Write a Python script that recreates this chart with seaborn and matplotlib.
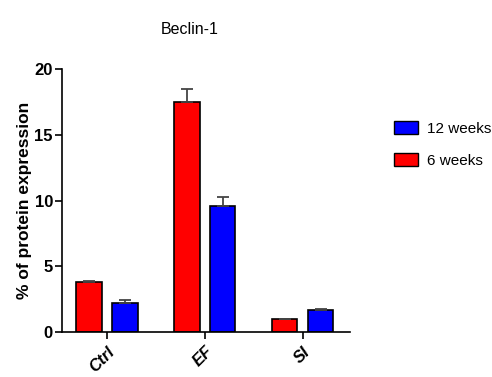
import matplotlib
matplotlib.use("Agg")
import matplotlib.pyplot as plt
import seaborn as sns
import pandas as pd
import numpy as np
from matplotlib.patches import Patch

categories = ["Ctrl", "EF", "SI"]
groups = ["6 weeks", "12 weeks"]
values_6w = [3.8, 17.5, 1.0]
err_6w = [0.05, 1.0, 0.03]
values_12w = [2.25, 9.6, 1.7]
err_12w = [0.2, 0.7, 0.08]
colors = {"6 weeks": "#ff0000", "12 weeks": "#0000ff"}

sns.set_style("white")
plt.rcParams['font.family'] = ['Liberation Sans', 'DejaVu Sans']
plt.rcParams['text.color'] = 'black'
plt.rcParams['axes.labelcolor'] = 'black'
plt.rcParams['xtick.color'] = 'black'
plt.rcParams['ytick.color'] = 'black'

df = pd.DataFrame({
    "cat": categories * 2,
    "group": [groups[0]] * 3 + [groups[1]] * 3,
    "value": values_6w + values_12w,
    "err": err_6w + err_12w,
})

fig = plt.figure(figsize=(4.92, 3.77), dpi=100)
ax = fig.add_axes([0.126, 0.119, 0.585, 0.698])
sns.barplot(data=df, x="cat", y="value", hue="group", hue_order=groups,
            order=categories, palette=colors, saturation=1, width=0.734, gap=0.3,
            errorbar=None, edgecolor="black", linewidth=1.2, legend=False, ax=ax)

# error bars (upward only)
for cont, g in zip(ax.containers, groups):
    sub = df[df.group == g]
    for bar, (_, row) in zip(cont, sub.iterrows()):
        xc = bar.get_x() + bar.get_width() / 2
        ax.errorbar(xc, row.value, yerr=[[0], [row.err]], fmt="none",
                    ecolor="#444444", elinewidth=1.3, capsize=4.5, capthick=1.3)

ax.set_xlim(-0.46, 2.48)
ax.set_ylim(0, 20)
ax.set_yticks([0, 5, 10, 15, 20])
sns.despine(ax=ax)
for s in ["left", "bottom"]:
    ax.spines[s].set_color("black")
    ax.spines[s].set_linewidth(1.2)
ax.tick_params(axis="both", direction="out", length=5, width=1.2, color="black",
               bottom=True, left=True)
ax.tick_params(axis="y", pad=1.5)
ax.set_xlabel("")
ax.set_ylabel("% of protein expression", fontsize=12.5, fontweight="bold", labelpad=2)
for lbl in ax.get_yticklabels():
    lbl.set_fontweight("bold")
    lbl.set_fontsize(12)
ax.set_xticks(range(len(categories)))
ax.set_xticklabels(categories, rotation=45, ha="right", rotation_mode="anchor",
                   fontweight="bold", fontsize=12, style="italic")

fig.text(190 / 492, 1 - 30 / 377, "Beclin-1", ha="center", va="center", fontsize=11.5)

handles = [Patch(facecolor=colors["12 weeks"], edgecolor="black", label="12 weeks"),
           Patch(facecolor=colors["6 weeks"], edgecolor="black", label="6 weeks")]
fig.legend(handles=handles, loc="upper left", bbox_to_anchor=(383 / 492, 1 - 110 / 377),
           frameon=False, fontsize=11, handlelength=1.6, handleheight=1.0,
           labelspacing=1.1, handletextpad=0.6, borderpad=0.2)

fig.savefig("out.png", dpi=100)
